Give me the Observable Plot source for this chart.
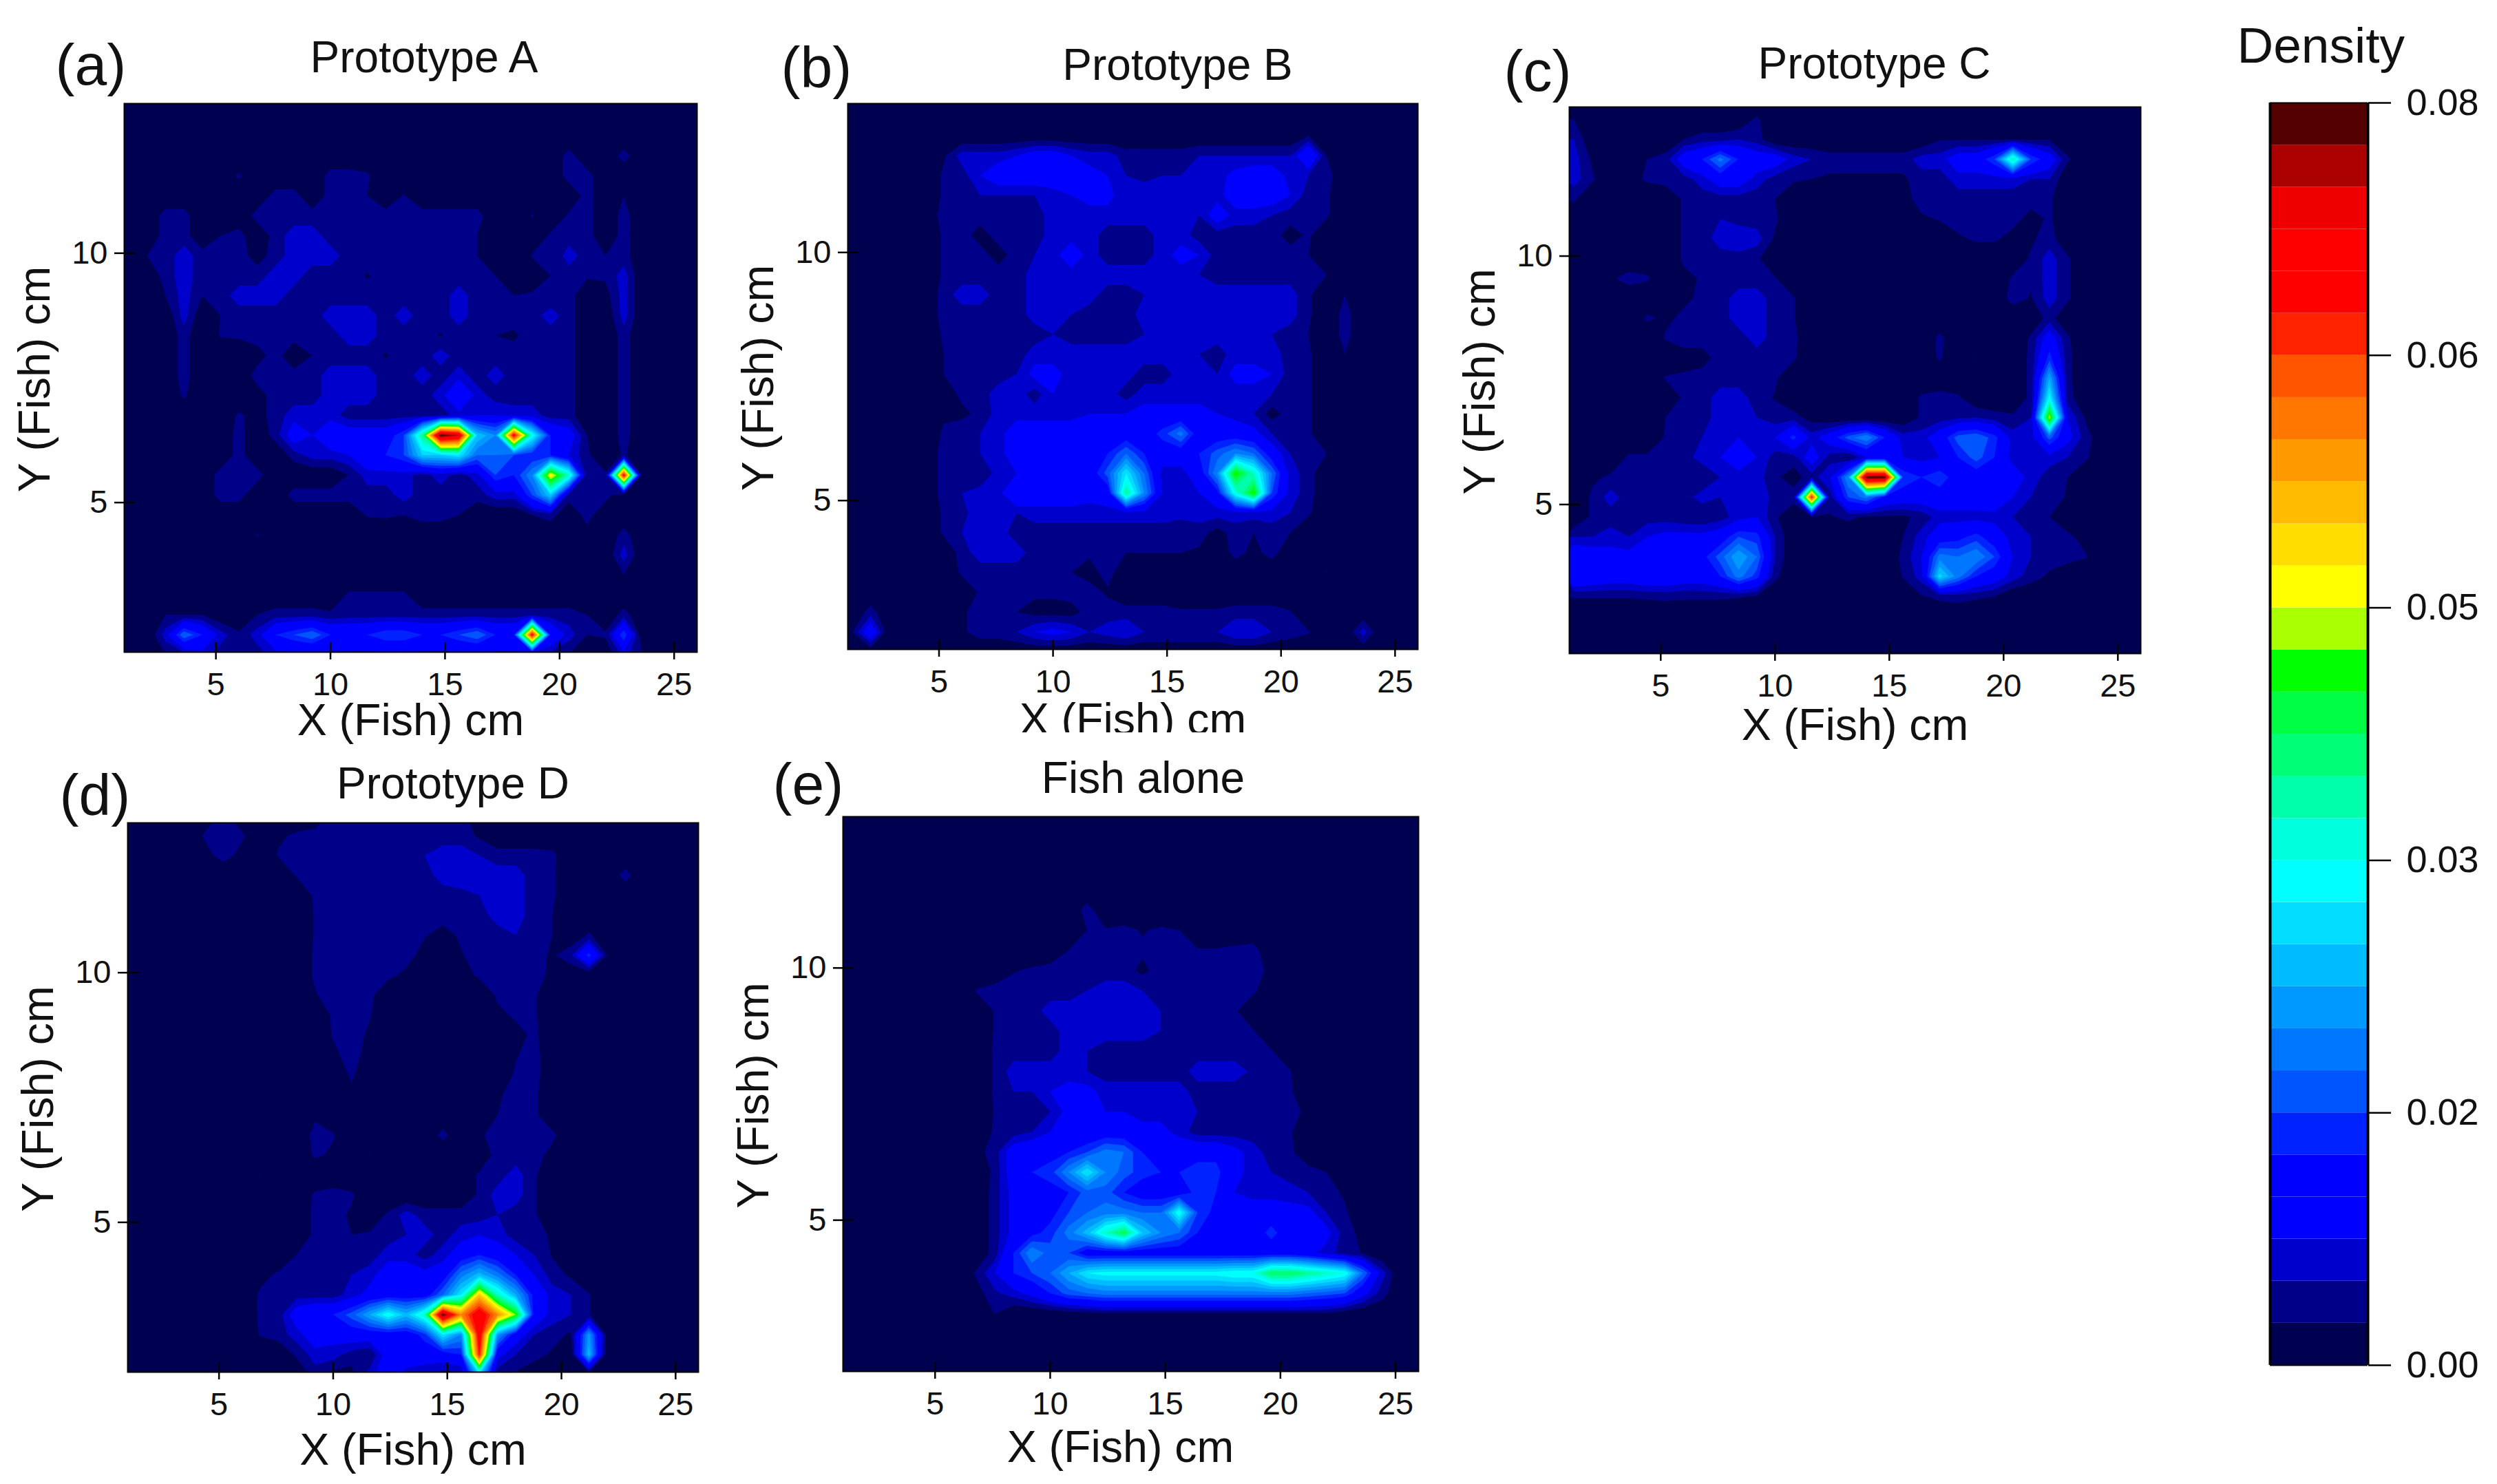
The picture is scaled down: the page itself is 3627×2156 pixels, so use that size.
<!DOCTYPE html>
<html><head><meta charset="utf-8">
<script src="https://cdn.jsdelivr.net/npm/d3@7"></script>
<script src="https://cdn.jsdelivr.net/npm/@observablehq/plot@0.6"></script>
<style>
html,body{margin:0;padding:0;background:#fff}
#page{position:relative;width:3627px;height:2156px;overflow:hidden;background:#fff}
#page svg{position:absolute;max-width:none}
</style></head><body><div id="page"></div>
<script>
// Density grids, in units of one colour band (0.08 / 30).
// Columns: x = 1.2, 2.0 ... 26.0 (step 0.8). Rows, top to bottom: y = 13.15, 12.75 ... 1.95 (step 0.4).
const panelA = [
[0,0,0,0, 0,0,0,0, 0,0,0,0, 0,0,0,0, 0,0,0,0, 0,0,0,0, 0,0,0,0, 0,0,0,0],
[0,0,0,0, 0,0,0,0, 0,0,0,0, 0,0,0,0, 0,0,0,0, 0,0,0,0, 0,0,0,0, 0,0,0,0],
[0,0,0,0, 0,0,0,0, 0,0,0,0, 0,0,0,0, 0,0,0,0, 0,0,0,0, 0,0,0,0, 0,0,0,0],
[0,0,0,0, 0,0,0,0, 0,0,0,0, 0,0,0,0, 0,0,0,0, 0,0,0,0, 1.5,0,0,1.5, 0,0,0,0],
[0,0,0,0, 0,0,1.2,0, 0,0,0,1.5, 1.5,1.2,0,0, 0,0,0,0, 0,0,0,0, 1.5,1.5,0,0, 0,0,0,0],
[0,0,0,0, 0,0,0,0, 1.5,1.5,0,1.5, 1.5,1,0,1.1, 0,0,0,0, 0,0,0,0, 0,1.5,0,1, 0,0,0,0],
[0,0,1.5,1.5, 0,0,0,1.5, 1.5,1.5,1.5,1.5, 1.5,1.5,1.5,1.5, 1.5,1.5,1.5,1.5, 0,0,1.1,0, 1.2,1.5,0,1.5, 0,0,0,0],
[0,0,1.5,1.5, 0,1,1.5,0, 1.5,2.5,2.5,1.5, 1.5,1.5,1.5,1.5, 1.5,1.5,1.5,1, 0,0,0,1.2, 1.5,1.5,0,1.5, 0,0,0,0],
[0,1,1.5,2.5, 1.5,1.5,1.5,0.5, 1.5,2.5,2.5,2.5, 1.5,1.5,1.5,1.5, 1.5,1.5,1.5,1, 0,0,1.1,1, 2.5,1.5,1,1.5, 0,0,0,0],
[0,0,1.5,2.5, 1.5,1.5,1.5,1.5, 2.5,2.5,1.5,1.5, 1.5,0.9,1.5,1.5, 1.5,1.5,1.5,1, 1,0,0,1, 1.5,1.2,1.2,2.5, 0,0,0,0],
[0,0,1,2.5, 1,1.5,2.5,2.5, 2.5,1.5,1.5,1.5, 1.5,1.5,1.5,1.5, 1.5,1.5,2.5,1.5, 1.5,1,1.2,1.2, 1.5,0,0.5,2.5, 0,0,0,0],
[0,0,0,2.5, 0,1,1.5,1.5, 1.5,1.5,1.5,2.5, 2.5,2.5,1.5,2.5, 1.5,1.5,2.5,1.5, 1.5,1.5,1.5,2.5, 1.5,0,0,2.5, 0,0,0,0],
[0,0,0,1.5, 0,1.1,1.2,1.5, 1.5,1.5,1.5,1.5, 2.5,2.5,1.5,1.5, 1.5,0.9,1.5,1.5, 1,0.8,1.5,1.5, 1.5,0,0,1.5, 0,0,0,0],
[0,0,0,1.5, 0,0,0,0.5, 1.5,0,1,1.5, 1.5,1.5,0.9,1.5, 1.5,2.5,1.5,1.5, 1.5,1.5,1.5,1.5, 1.5,0,0,1.5, 0,0,0,0],
[0,0,0,1.5, 0,0,0,1.5, 1.5,1.5,1.5,2.5, 2.5,2.5,1.5,1.5, 2.5,1.5,2.5,1.5, 2.5,1.5,1.5,1.5, 1.5,0,0,1.5, 0,0,0,0],
[0,0,0,1.2, 0,0,0,0.5, 1.5,1.5,1.5,2.5, 2.5,2.5,1.5,1.5, 1.5,2.5,5,2.5, 1.5,1.5,1.5,1.5, 1.5,0,0,1.5, 0,0,0,0],
[0,0,0,0, 0,0,1.2,0.5, 1.5,2.5,2.5,2.5, 1.5,1.5,1.5,1.5, 1.5,1.5,2.5,3, 3,2.5,2.5,1.5, 1.5,0,0,1.5, 0,0,0,0],
[0,0,0,0, 0,0,1.5,0, 1.5,4,3,4.5, 4,4,4,6, 14,30,28,10, 8,26,12,5, 4,1,0,1.5, 0,0,0,0],
[0,0,0,0, 0,0,1.5,0, 0,1.5,2.5,2.5, 3,4.5,5,6, 10,10,11,7, 7,6,5,5, 3,1.2,0,1.2, 0,0,0,0],
[0,0,0,0, 0,1.5,1.5,1.5, 0,0,0,0, 1,2.5,2.5,2.5, 1.5,2.5,1.5,2.5, 6,5,8,19, 13,1,1.2,26, 0,0,0,0],
[0,0,0,0, 0,1.5,1.5,0, 0,1.5,1.5,1.5, 1.5,1.5,1.5,2.5, 1.5,1.5,1.5,1.5, 2.5,2.5,6,10, 1.5,1.5,1.5,0, 0,0,0,0],
[0,0,0,0, 0,0,0,0, 0,0,0,0, 0,1.1,1.2,1, 1.5,1.5,1,0, 0,0,1,1.5, 0,1.5,0,0, 0,0,0,0],
[0,0,0,0, 0,0,0,1.1, 0,0,0,0, 0,0,0,0, 0,0,0,0, 0,0,0,0, 0,0.5,0,1.5, 0,0,0,0],
[0,0,0,0, 0,0,0,0, 0,0,0,0, 0,0,0,0, 0,0,0,0, 0,0,0,0, 0,0,0,2.5, 0,0,0,0],
[0,0,0,0, 0,0,0,0, 0,0,0,0, 0,0,0,0, 0,0,0,0, 0,0,0,0, 0,0,0,1, 0,0,0,0],
[0,0,0,0, 0,0,0,0, 0,0,0,0, 1.2,1.2,1.2,1.2, 0,0,0,0, 0,0,0,0, 0,0,0,0, 0,0,0,0],
[0,0,1,1, 1,0,0,1, 1.5,1.5,1.5,1.2, 1.5,1.5,1.5,1.5, 1.5,1.5,1.5,1.5, 1.5,1.5,1.5,1.5, 1.5,1,0,1.5, 0,0,0,0],
[0,0,2.5,7, 5,2.5,1.2,2.5, 5,6,7,5, 5,5,6,6, 5,5,6,7, 5,5,26,5, 2.5,1,1.2,6, 0,0,0,0],
[0,0,1,1.5, 2.5,1.5,1,1.5, 2.5,2.5,2.5,2.5, 2.5,2.5,2.5,2.5, 2.5,2.5,2.5,2.5, 2.5,2.5,1.5,1.5, 1,0,0,2.5, 1,0,0,0]
];
const panelB = [
[0,0,0,0, 0,0,0,0, 0,0,0,0, 0,0,0,0, 0,0,0,0, 0,0,0,0, 0,0,0,0, 0,0,0,0],
[0,0,0,0, 0,0,0,0, 0,0,0,0, 0,0,0,0, 0,0,0,0, 0,0,0,0, 0,0,0,0, 0,0,0,0],
[0,0,0,0, 0,0,0,0, 0,0,0,0, 0,0,0,0, 0,0,0,0, 0,0,0,0, 0,1,0,0, 0,0,0,0],
[0,0,0,0, 0,0.8,2.5,2.5, 2.5,3,4,4, 3,2.5,2.5,1.5, 1.5,1.5,1.5,2, 2,2,2,2, 2,5,1,0, 0,0,0,0],
[0,0,0,0, 0,1.2,1.5,3, 4,4,4,4, 3.5,3.5,3,2, 1.5,2,2,2.5, 2.5,3.5,4,4, 2.5,2,1.5,0, 0,0,0,0],
[0,0,0,0, 0,1.2,1.5,2, 2,2,2,2.5, 3,3.5,3.5,2, 3,3,2,2, 2.5,4,4,4, 3,1.5,1.2,0, 0,0,0,0],
[0,0,0,0, 0,1.5,1.5,1.5, 1.5,1.5,1.5,2.5, 2.5,2.5,2.5,2.5, 2.5,2.5,2.5,2, 4,2.5,2.5,2, 1.5,1.5,1.2,0, 0,0,0,0],
[0,0,0,0, 0,1.2,1.5,0.5, 1.5,1.5,1.5,2.5, 2.5,2.5,1.5,1.5, 1.5,2.5,2.5,1.5, 1.5,1.5,1.5,1.5, 0.5,1.2,0,0, 0,0,0,0],
[0,0,0,0, 0,1.2,1.5,1.5, 0.5,1.5,2,2.5, 4,2.5,1.5,1.5, 1.5,2.5,3.5,3, 1.5,1.5,1.5,1.5, 1.5,1,0,0, 0,0,0,0],
[0,0,0,0, 0,1.2,1.5,1.5, 1.5,1.5,2.5,2.5, 2.5,2.5,2.5,2.5, 2.5,2.5,2.5,2, 1.5,1.5,1.5,1.5, 1.5,1.2,1,0, 0,0,0,0],
[0,0,0,0, 0,1.5,2.5,2.5, 1.5,1.5,2.5,2.5, 2.5,2.5,1.5,1.5, 2,2.5,2.5,2.5, 2.5,2.5,2.5,2.5, 2.5,1.2,0,1, 0,0,0,0],
[0,0,0,0, 0,1.5,1.5,1.5, 1.5,1.5,2.5,2.5, 2,1.5,1.5,1.5, 2.5,2.5,2.5,2.5, 2.5,2.5,2.5,2.5, 2.5,1.2,0,1.5, 0,0,0,0],
[0,0,0,0, 0,1.2,1.5,1.5, 1.5,1.5,1.5,2, 1.5,1.5,1.5,1.5, 2,2.5,2.5,2.5, 2.5,2.5,2.5,2, 1.5,1,0,1.5, 0,0,0,0],
[0,0,0,0, 0,1,1.5,1.5, 1.5,1.5,2.5,2.5, 2.5,2.5,2.5,2.5, 2.5,2.5,2.5,2, 1.5,2.5,2.5,2.5, 1.5,1.2,0,1, 0,0,0,0],
[0,0,0,0, 0,1,1.5,1.5, 1.5,2,3.5,3.5, 2.5,2.5,2.5,2.5, 1.5,1.5,2.5,2.5, 2,3.5,3.5,3, 1.5,1.2,0,0, 0,0,0,0],
[0,0,0,0, 0,0.5,1.2,1.5, 2.5,2.5,1.5,3, 2,2.5,2.5,1.5, 2.5,2.5,2.5,2.5, 2.5,2.5,2.5,2, 1.5,1.2,0,0, 0,0,0,0],
[0,0,0,0, 0,0.8,0.8,1.2, 2.5,2.5,2.5,2.5, 2.5,3,3,3, 3.5,3.5,3.5,3.5, 3,2.5,2,0.5, 1.5,1.2,0,0, 0,0,0,0],
[0,0,0,0, 0,1.2,1.5,2, 2.5,4,4,4, 4,4,4,4, 4,5.5,7.5,4, 4,4,3.5,2, 1.5,1.2,0,0, 0,0,0,0],
[0,0,0,0, 0,1.5,1.5,2, 2.5,4,4,4, 4,4.5,5,7, 5,4,4,5, 6.5,8,7,4, 2,1.5,1,0, 0,0,0,0],
[0,0,0,0, 0,1.5,1.5,1, 2.5,3,4,4, 4,4,6.5,11, 7,2.5,2.5,4, 8,17,13,7, 2.5,1.5,0,0, 0,0,0,0],
[0,0,0,0, 0,1.5,2,2.5, 2.5,5,4,4, 4,3.5,4,14, 8,3,2.5,3, 4.5,12,17,6, 2.5,1.5,0,0, 0,0,0,0],
[0,0,0,0, 0,1.2,1.5,3, 2,2,2.5,2.5, 2.5,2.5,2.5,2.5, 2.5,2.5,2.5,2.5, 2.5,2.5,2.5,2.5, 2,1.2,0,0, 0,0,0,0],
[0,0,0,0, 0,1.2,2,3, 2.5,1.5,1.5,1.5, 1.5,1.5,1.5,1.5, 1.5,1.5,1,1.5, 0.5,1.5,1,1.5, 1,0,0,0, 0,0,0,0],
[0,0,0,0, 0,0,1.5,2.5, 2.5,2.5,1.5,1.5, 1.5,1.2,1,1, 1,1,1,0.8, 0,1.5,0.6,1.5, 0,0,0,0, 0,0,0,0],
[0,0,0,0, 0,0,1.2,1.5, 1.5,1.5,1.5,1.5, 1,0.5,1.5,0, 0,0,0,0, 0,0,0,0, 0,0,1.05,0, 0,0,0,0],
[0,0,0,0, 0,0,0,1.2, 1,1,1.2,1.2, 1.5,1.5,0.8,0, 0,0,0,0, 0,0,0,0, 0,0,0,0, 0,0,0,0],
[0,1.5,0,0, 0,0,0.8,1.5, 1.5,1,0.6,0.6, 0.5,1.5,1.5,1.5, 1.5,1.5,1.2,1.2, 1.2,1.5,1.5,1.5, 1.1,0,0,0, 0,0,0,0],
[1,4.5,0,0, 0,0,0.8,1.5, 1.5,2,3,3.5, 3,2,2.5,3, 2,2,2,2, 2,3,3,2, 1.5,1.1,0,0, 2.5,0,0,0],
[0,0,0,0, 0,0,0,0, 0,0,0,0, 0,0,0,0, 0,0,0,0, 0,0,0,0, 0,0,0,0, 0,0,0,0]
];
const panelC = [
[0,0,0,0, 0,0,0,0, 0,0,0,0, 0,0,0,0, 0,0,0,0, 0,0,0,0, 0,0,0,0, 0,0,0,0],
[1,0,0,0, 0,0,0,0, 0,0,1.2,0, 0,0,0,0, 0,0,0,0, 0,0,0,0, 0,0,0,0, 0,0,0,0],
[2,0,0,0, 0,0,1,1.5, 1.5,2,1.5,0, 0,0,0,0, 0,0,0,0, 0.9,0.9,0.9,0.9, 0.9,0.9,0.9,0, 0,0,0,0],
[2.5,0.8,0,0, 1,1.5,4,5, 7.5,5,4,4, 2.5,2,1.5,1.5, 1.5,1.5,1.5,2.5, 2.5,4,4,6, 13.5,6,4,1.2, 0,0,0,0],
[2.5,1.2,0,0.5, 1.2,1.5,1.5,2.5, 4,4,2.5,1.5, 1.2,1,0.8,0.8, 0.8,0.8,0.8,1.5, 1.5,2.5,2.5,2.5, 2.5,2,2,0, 0,0,0,0],
[1.2,0,0,0, 0,0,1.2,1.5, 1.5,1.5,1.5,1, 0,0,0,0, 0,0,0.5,1.5, 1.5,1.5,1.5,1.5, 1.5,1.5,1.2,0, 0,0,0,0],
[0,0,0,0, 0,0,1.2,1.5, 2,1.5,1.5,1.2, 0,0,0,0, 0,0,0,0.8, 1.1,1.5,1.5,1.5, 1.5,0.5,1.2,0, 0,0,0,0],
[0,0,0,0, 0,0,1.2,1.5, 2.5,3,2.5,0.8, 0,0,0,0, 0,0,0,0, 0,0.8,1.2,1.2, 0.5,0.8,1.5,0, 0,0,0,0],
[0,0,0,0, 0,0,1.2,1.5, 1.5,1.5,1.2,0, 0,0,0,0, 0,0,0,0, 0,0,0,0, 0,1.2,2.5,1.2, 0,0,0,0],
[0,0,0.8,1.5, 1.2,0,0.7,1.1, 1.5,1.5,1.5,1.1, 0,0,0,0, 0,0,0,0, 0,0,0,0, 1.2,1.2,2.5,1.2, 0,0,0,0],
[0,0,0,0, 0,0,0.8,1.2, 1.5,2.5,2.5,1.5, 1.1,0,0,0, 0,0,0,0, 0,0,0,0, 1.5,0.9,2.5,1.2, 0,0,0,0],
[0,0,0,0, 1.2,0.8,1.2,1.5, 1.5,2.5,2.5,1.5, 1.1,0,0,0, 0,0,0,0, 0,0,0,0, 0,0,1.5,0, 0,0,0,0],
[0,0,0,0, 0,1.1,1.5,1.5, 1.5,1.5,2.5,1.5, 1.3,0,0,0, 0,0,0,0, 1.3,0,0,0, 0,1.2,4,1.2, 0,0,0,0],
[0,0,0,0, 0,0,0.5,0.5, 1.5,1.5,1.5,1.5, 1.2,0,0,0, 0,0,0,0, 1.2,0,1.05,0, 0,1.3,5.5,1.3, 0,0,0,0],
[0,0,0,0, 0,1.1,1.2,1.5, 1.5,1.5,1.5,1.2, 0,0,0,0, 0,0,0,0, 0,0,0,0, 0,1.3,9,1.3, 0,0,0,0],
[0,0,0,0, 0,0,1.2,1.5, 2.5,2.5,1.5,0.9, 0,0,0,0, 0,0,0,1.2, 1.5,1.2,0,0, 0,1.3,11.5,1.5, 0,0,0,0],
[0,0,0,0, 0,1,1.5,1.5, 2.5,3,2,1.5, 1.5,0.5,0,0, 0,0,0,1.2, 1.5,1.8,2,1.5, 1.2,2,18,3, 0.8,0,0,0],
[0,0,0,0, 0,1.1,1.5,2, 2.5,3,2.5,3, 5.5,2.5,4,6.5, 8,5,2.5,2.5, 4,6.5,7,5.5, 2.5,2.5,6.5,3.5, 1.5,0,0,0],
[0,0,0,1.2, 1.2,1.5,1.5,2.5, 3,4,3,1.5, 1.5,4,1.5,0.8, 3,3,3,2.5, 3,5,6.5,5, 2.5,2,2.5,2, 1.2,0,0,0],
[0,0.8,1.2,1.5, 1.5,1.5,1.5,1, 2,2.5,2.5,1.2, 0.5,1.5,3,8, 30,30,6,5, 6,4,4,4, 4,2.5,1.5,1, 0,0,0,0],
[0,1.2,2.5,1.5, 1.5,1.5,1.5,2.5, 2,2.5,3,1.5, 1.5,25,1.5,6, 7.5,4.5,4,4, 4,4,4,4.5, 3,2,1.5,0.9, 0,0,0,0],
[0,1.2,1.5,1.5, 1.5,1.5,1.2,1, 1.5,2.5,3,1.2, 0,0.9,0.9,1.3, 0.8,0.8,0.8,1.3, 2.5,2.5,2.5,2.5, 2,1.5,1,0, 0,0,0,0],
[2,2,2.5,2, 3,3.5,3.5,3.5, 4,6,5.5,2, 0,0,0,0, 0,0,1,2.5, 4,4.5,5.5,4, 2.5,2,1.1,1.3, 0.5,0,0,0],
[4.5,4,3.5,3.5, 4,4,4,4.5, 6.5,9,7,2, 0,0,0,0, 0,0,1.3,3, 7.5,7,8,6, 3,2,1.5,1.5, 1.1,0,0,0],
[5,4.5,4,4, 4.5,4.5,4,4, 5,7.5,5.5,1.3, 0,0,0,0, 0,0,1.1,2.5, 10.5,7.5,5,4, 2.5,1.5,0.8,0, 0,0,0,0],
[1.1,1.1,1.1,1.1, 1.2,1.3,1.2,1.2, 1.2,1.1,0.9,0, 0,0,0,0, 0,0,0,0.9, 1.3,1.5,1.2,1, 0,0,0,0, 0,0,0,0],
[0,0,0,0, 0,0,0,0, 0,0,0,0, 0,0,0,0, 0,0,0,0, 0,0,0,0, 0,0,0,0, 0,0,0,0],
[0,0,0,0, 0,0,0,0, 0,0,0,0, 0,0,0,0, 0,0,0,0, 0,0,0,0, 0,0,0,0, 0,0,0,0],
[0,0,0,0, 0,0,0,0, 0,0,0,0, 0,0,0,0, 0,0,0,0, 0,0,0,0, 0,0,0,0, 0,0,0,0]
];
const panelD = [
[0,0,0,0, 0,1.5,0,0, 0,0,0,1.5, 1.5,1.5,1.5,1.5, 0.9,1.5,1.5,0, 0,0,0,0, 0,0,0,0, 0,0,0,0],
[0,0,0,0, 1.2,2,1.2,0, 0.8,1.2,1.5,1.5, 1.5,1.5,1.5,1.5, 1.5,1.5,1.5,0.8, 0,0,0,0, 0,0,0,0, 0,0,0,0],
[0,0,0,0, 0.6,1.5,0.6,0, 1.1,1.5,1.5,1.5, 1.5,1.5,1.5,1.5, 2,2.5,2.5,2, 1.5,1.5,1.5,1.3, 0,0,0,0, 0,0,0,0],
[0,0,0,0, 0,0,0,0, 0,1.1,1.5,1.5, 1.5,1.5,1.5,1.5, 1.5,2.5,3,2.5, 2.5,2.5,1.5,1.2, 0,0,0,1.5, 0,0,0,0],
[0,0,0,0, 0,0,0,0, 0,0,1.2,1.5, 1.5,1.5,1.5,1.5, 1.5,1.5,1.5,2, 2.5,2.5,1.5,1.2, 0,0,0,0, 0,0,0,0],
[0,0,0,0, 0,0,0,0, 0,0,1.1,1.5, 1.5,1.5,1.5,1.5, 1.5,1.5,1.5,1.5, 2.5,2.5,1.5,1, 0,0,0,0, 0,0,0,0],
[0,0,0,0, 0,0,0,0, 0,0,1.1,1.5, 1.5,1.5,1.5,1.5, 1.1,0.5,1.2,1.5, 1.5,2,1.5,1, 0,1.2,0,0, 0,0,0,0],
[0,0,0,0, 0,0,0,0, 0,0,1.2,1.5, 1.5,1.5,1.5,1.5, 0.5,0,0.9,1.5, 1.5,1.5,1.5,0.8, 1.8,5.5,1,0, 0,0,0,0],
[0,0,0,0, 0,0,0,0, 0,0,1.2,1.5, 1.5,1.5,1.3,0.7, 0,0,0.5,1.2, 1.5,1.5,1.5,0.7, 0,0,0,0, 0,0,0,0],
[0,0,0,0, 0,0,0,0, 0,0,0.9,1.5, 1.5,1.3,0,0, 0,0,0,0, 1.2,1.5,1.2,0, 0,0,0,0, 0,0,0,0],
[0,0,0,0, 0,0,0,0, 0,0,0,1.2, 1.5,1.1,0,0, 0,0,0,0, 0.7,1.2,1.2,0, 0,0,0,0, 0,0,0,0],
[0,0,0,0, 0,0,0,0, 0,0,0,1.1, 1.5,0.8,0,0, 0,0,0,0, 0,0.5,1.3,0, 0,0,0,0, 0,0,0,0],
[0,0,0,0, 0,0,0,0, 0,0,0,0.7, 1.5,0.5,0,0, 0,0,0,0, 0,0.9,1.5,0, 0,0,0,0, 0,0,0,0],
[0,0,0,0, 0,0,0,0, 0,0,0,0, 1.2,0,0,0, 0,0,0,0, 0,1.2,1.5,0, 0,0,0,0, 0,0,0,0],
[0,0,0,0, 0,0,0,0, 0,0,0,0, 0.7,0,0,0, 0,0,0,0, 0.8,1.5,1.3,0, 0,0,0,0, 0,0,0,0],
[0,0,0,0, 0,0,0,0, 0,0,0.8,0, 0,0,0,0, 0,0,0,0, 1,1.2,1.3,0, 0,0,0,0, 0,0,0,0],
[0,0,0,0, 0,0,0,0, 0,0,1.4,1.1, 0,0,0,0, 0,1.4,0,0.8, 1.5,1.5,2,1.3, 0,0,0,0, 0,0,0,0],
[0,0,0,0, 0,0,0,0, 0,0,1.2,0.8, 0,1.05,0,0, 0,0,0,0, 1.5,1.5,1.5,0.6, 0,0,0,0, 0,0,0,0],
[0,0,0,0, 0,0,0,1.05, 0,0,0,0, 0,0,0,0, 0,0,0,1.2, 1.5,2.5,1.2,0, 0,0,0,0, 0,0,0,0],
[0,0,0,0, 0,0,0,0, 0,0,1.2,1.5, 1.2,0,0,0, 0,0,0,1.2, 2.5,2.5,1.2,0, 0,0,0,0, 0,0,0,0],
[0,0,0,0, 0,0,0,0, 0,0,1.3,1.5, 0.8,0,1.2,2.5, 1.5,1.5,1.5,1.5, 2,1.5,1.2,0, 0,0,0,0, 0,0,0,0],
[0,0,0,0, 0,0,0,0, 0,0,1.3,1.5, 1,1.2,1.5,2, 2.5,1.5,2.5,3, 2.5,1.5,1.5,0.8, 0,0,0,0, 0,0,0,0],
[0,0,0,0, 0,0,0,0, 0,1,1.5,1.5, 1.5,1.5,2.5,2.5, 1.5,2.5,4,5, 4,3,2,0.9, 0,0,0,0, 0,0,0,0],
[0,0,0,0, 0,0,0,0.6, 1.2,1.2,1.5,1.5, 2,2.5,4,4, 3.5,4,7.5,9.5, 7.5,5,3,1.5, 0.8,0,0,0, 0,0,0,0],
[0,0,0,0, 0,0,0,1.2, 1.5,1.5,1.5,1.5, 2.5,3.5,4,4, 4,7,11,20, 13,9,4.5,2.5, 2,1.1,0,0, 0,0,0,0],
[0,0,0,0, 0,0,0,1.2, 1.5,4,5,5, 6.5,9,12,9.5, 13,30,22,27, 22,17,4.5,2.5, 2,1.1,0,0, 0,0,0,0],
[0,0,0,0, 0,0,0,1.1, 1.5,2.5,4,3.5, 4,4,4,4, 5.5,11,8,27, 8.5,4,2,1.5, 0.8,8.5,0.5,0, 0,0,0,0],
[0,0,0,0, 0,0,0,0, 0,1.2,2.5,2.5, 1.5,1,4,4, 4,4,5,25, 3.5,2,1.5,0.8, 0,9.5,0,0, 0,0,0,0],
[0,0,0,0, 0,0,0,0, 0,0,1.5,0.6, 0.6,2.5,4,2.5, 2,1.5,1.5,10, 1.2,0.8,0,0, 0,0,0,0, 0,0,0,0]
];
const panelE = [
[0,0,0,0, 0,0,0,0, 0,0,0,0, 0,0,0,0, 0,0,0,0, 0,0,0,0, 0,0,0,0, 0,0,0,0],
[0,0,0,0, 0,0,0,0, 0,0,0,0, 0,0,0,0, 0,0,0,0, 0,0,0,0, 0,0,0,0, 0,0,0,0],
[0,0,0,0, 0,0,0,0, 0,0,0,0, 0,0,0,0, 0,0,0,0, 0,0,0,0, 0,0,0,0, 0,0,0,0],
[0,0,0,0, 0,0,0,0, 0,0,0,0, 0,0,0,0, 0,0,0,0, 0,0,0,0, 0,0,0,0, 0,0,0,0],
[0,0,0,0, 0,0,0,0, 0,0,0,0, 0,0,0,0, 0,0,0,0, 0,0,0,0, 0,0,0,0, 0,0,0,0],
[0,0,0,0, 0,0,0,0, 0,0,0,0, 0,1.5,0,0, 0,0,0,0, 0,0,0,0, 0,0,0,0, 0,0,0,0],
[0,0,0,0, 0,0,0,0, 0,0,0,0, 0,1,1.1,1.3, 0.9,1.2,1,0, 0,0,0,0, 0,0,0,0, 0,0,0,0],
[0,0,0,0, 0,0,0,0, 0,0,0,0, 1,1.5,1.5,1.5, 1.2,1.5,1.5,1.1, 1.1,1.3,1.5,0, 0,0,0,0, 0,0,0,0],
[0,0,0,0, 0,0,0,0, 0,0.9,1.2,1.5, 1.5,1.5,1.5,1.5, 0.7,1.5,1.5,1.5, 1.5,1.5,1.5,0.7, 0,0,0,0, 0,0,0,0],
[0,0,0,0, 0,0,0,1.1, 1.5,1.5,1.5,1.5, 1.5,2,2.5,2.5, 2,1.5,1.5,1.5, 1.5,1.5,1.3,0, 0,0,0,0, 0,0,0,0],
[0,0,0,0, 0,0,0,0, 1.1,1.5,1.5,2.5, 2.5,2.5,2.5,2.5, 2.5,2,1.5,1.5, 1.5,1.2,0,0, 0,0,0,0, 0,0,0,0],
[0,0,0,0, 0,0,0,0, 1.1,1.5,1.5,1.5, 2.5,2.5,2.5,2.5, 2.5,2,1.5,1.5, 1.5,1.5,1.1,0, 0,0,0,0, 0,0,0,0],
[0,0,0,0, 0,0,0,0, 1.2,1.5,1.5,1.5, 2.5,2,1.5,1.5, 1.5,1.5,1.5,1.5, 1.5,1.5,1.5,1.1, 0,0,0,0, 0,0,0,0],
[0,0,0,0, 0,0,0,0, 1.2,2.5,2.5,2.5, 2.5,2,1.5,1.5, 1.5,1.5,1.5,2.5, 2.5,2.5,1.8,1.5, 1.1,0,0,0, 0,0,0,0],
[0,0,0,0, 0,0,0,0, 1.2,2,2,3, 3.5,3.5,2.5,2.5, 2.5,2.5,2.5,1.5, 1.5,1.5,1.5,1.5, 1.2,0,0,0, 0,0,0,0],
[0,0,0,0, 0,0,0,0, 1.1,1.5,1.5,2, 3.5,3.5,3,3, 2.5,2.5,2.5,2, 1.5,1.5,1.5,1.8, 1.3,0.8,0,0, 0,0,0,0],
[0,0,0,0, 0,0,0,0, 1.2,1.5,2,3, 3.5,3.5,4,4, 3.5,3.5,2.5,1.5, 1.5,1.5,1.5,1.5, 1.2,0,0,0, 0,0,0,0],
[0,0,0,0, 0,0,0,0.6, 1.5,4,4.5,4.5, 5,6,7.5,7, 5,4.5,4.5,4.5, 4.5,3.5,2.5,1.5, 1.3,0,0,0, 0,0,0,0],
[0,0,0,0, 0,0,0,0, 1.3,4,5,5.5, 8,11,8,6.5, 5.5,5,5,5.5, 5.5,3.5,2.5,2, 1.5,1.5,1,0, 0,0,0,0],
[0,0,0,0, 0,0,0,0, 1.5,3.5,4.5,4.5, 5,6.5,6.5,5, 4,4,4,5.5, 5,3,2.5,2.5, 2.5,2,1.5,0.8, 0,0,0,0],
[0,0,0,0, 0,0,0,0, 1.5,3.5,4.5,4.5, 6,7,7.5,7.5, 7,7,12,6, 4.5,4,4,4, 3.5,3.5,2,1.2, 0,0,0,0],
[0,0,0,0, 0,0,0,0, 1.5,3.5,4.5,5.5, 7.5,9.5,13,15.5, 10,8,7,5, 4,4,4,5.5, 4,4,3.5,1.5, 0.6,0,0,0],
[0,0,0,0, 0,0,0,0, 1.5,5,8,6.5, 6,4,4,4, 4,4,4,4, 4,4,4,4, 4,3.5,2.5,1.5, 0.9,0,0,0],
[0,0,0,0, 0,0,0,1.2, 3,5,6,7, 9,11,11.5,11.5, 11.5,11.5,11.5,11.5, 11.5,12,12,15, 15,14,13,12, 7,2.5,0,0],
[0,0,0,0, 0,0,0,0.5, 1.8,2.5,3.5,5, 6.5,7,7.5,7.5, 7.5,7.5,7.5,7.5, 7.5,7.5,7.5,7.5, 7.5,7,6.5,6, 3.5,1.5,0,0],
[0,0,0,0, 0,0,0,0, 1.05,0,0,0.2, 0.4,0.6,0.9,0.9, 0.9,0.9,0.9,0.9, 0.9,0.9,0.9,0.9, 0.9,0.9,0.9,0.3, 0,0,0,0],
[0,0,0,0, 0,0,0,0, 0,0,0,0, 0,0,0,0, 0,0,0,0, 0,0,0,0, 0,0,0,0, 0,0,0,0],
[0,0,0,0, 0,0,0,0, 0,0,0,0, 0,0,0,0, 0,0,0,0, 0,0,0,0, 0,0,0,0, 0,0,0,0],
[0,0,0,0, 0,0,0,0, 0,0,0,0, 0,0,0,0, 0,0,0,0, 0,0,0,0, 0,0,0,0, 0,0,0,0]
];

// Colour bands, lowest to highest
const bandColors = ["#000050","#000088","#0000cc","#0000ff","#0000ff","#0022ff","#0055ff","#0077ff","#0099ff","#00bbff",
  "#00ddff","#00ffff","#00ffdd","#00ffaa","#00ff77","#00ff44","#00ff00","#aaff00","#ffff00","#ffdd00",
  "#ffbb00","#ff9900","#ff7700","#ff5500","#ff2200","#ff0000","#ff0000","#ee0000","#aa0000","#550000"];
const densityMax = 0.08;
const bandStep = densityMax / bandColors.length;
const thresholds = bandColors.map((c, i) => i * bandStep);
const colorScale = {type: "threshold", domain: thresholds.slice(1), range: bandColors};

const xTicks = [5, 10, 15, 20, 25];
const yTicks = [5, 10];
const colorbarTicks = [0, 0.016, 0.032, 0.048, 0.064, 0.08];
const xLabel = "X (Fish) cm";
const yLabel = "Y (Fish) cm";
const FONT = "'Liberation Sans', Arial, sans-serif";
const INK = "#111";

const page = document.getElementById("page");
const ML = 180, MT = 150, MR = 12;

function panel({rows, letter, title, frame, titleDx, titleDy, letterDx, letterDy, xLabelDx = 0, xLabelDy, bottom, clip}) {
  const [fx0, fy0, fx1, fy1] = frame;
  const innerW = fx1 - fx0, innerH = fy1 - fy0;
  const plot = Plot.plot({
    width: ML + innerW + MR, height: MT + innerH + bottom,
    marginLeft: ML, marginTop: MT, marginRight: MR, marginBottom: bottom,
    x: {domain: [1, 26]}, y: {domain: [2, 13]},
    color: colorScale,
    style: {background: "transparent", overflow: clip ? "hidden" : "visible", fontFamily: FONT, color: INK},
    marks: [
      Plot.contour(rows.flat().map((l) => l * bandStep), {
        width: 32, height: 29, x1: 0.8, x2: 26.4, y1: 13.35, y2: 1.75,
        fill: (d) => d, thresholds, clip: true
      }),
      Plot.frame({stroke: "black", strokeWidth: 2}),
      Plot.axisX(xTicks, {anchor: "bottom", label: null, tickSize: 11, tickPadding: 18, fontSize: 47, strokeWidth: 2.5, stroke: "black", fill: INK, tickFormat: (d) => String(d)}),
      Plot.axisY(yTicks, {anchor: "left", label: null, tickSize: 14, tickPadding: 10, fontSize: 47, strokeWidth: 2.5, stroke: "black", fill: INK, tickFormat: (d) => String(d)}),
      Plot.tickX(xTicks, {x: (d) => d, insetTop: innerH - 14, stroke: "black", strokeWidth: 2.5}),
      Plot.tickY(yTicks, {y: (d) => d, insetRight: innerW - 16, stroke: "black", strokeWidth: 2.5}),
      Plot.text([xLabel], {text: (d) => d, frameAnchor: "bottom", lineAnchor: "bottom", dx: xLabelDx, dy: xLabelDy, fontSize: 64.5, fill: INK}),
      Plot.text([yLabel], {text: (d) => d, frameAnchor: "left", textAnchor: "middle", lineAnchor: "bottom", rotate: -90, dx: -108.5, dy: 2, fontSize: 64.5, fill: INK}),
      Plot.text([title], {text: (d) => d, frameAnchor: "top", lineAnchor: "bottom", dx: titleDx, dy: titleDy, fontSize: 64, fill: INK}),
      Plot.text([letter], {text: (d) => d, frameAnchor: "top-left", textAnchor: "start", lineAnchor: "bottom", dx: letterDx - 2, dy: letterDy, fontSize: 84, fill: INK})
    ]
  });
  plot.style.left = (fx0 - ML) + "px";
  plot.style.top = (fy0 - MT) + "px";
  page.appendChild(plot);
}

panel({rows: panelA, letter: "(a)", title: "Prototype A", frame: [180, 150, 1012, 947], titleDx: 19.5, titleDy: -46, letterDx: -98, letterDy: -28, xLabelDy: 120, bottom: 145});
panel({rows: panelB, letter: "(b)", title: "Prototype B", frame: [1231, 150, 2059, 943], titleDx: 65, titleDy: -35, letterDx: -95, letterDy: -23.5, xLabelDy: 123, bottom: 121, clip: true});
panel({rows: panelC, letter: "(c)", title: "Prototype C", frame: [2279, 155, 3109, 949], titleDx: 28, titleDy: -42, letterDx: -93, letterDy: -24, xLabelDy: 125, bottom: 145});
panel({rows: panelD, letter: "(d)", title: "Prototype D", frame: [185, 1195, 1014, 1993], titleDx: 58, titleDy: -36, letterDx: -97, letterDy: -12, xLabelDy: 134, bottom: 155});
panel({rows: panelE, letter: "(e)", title: "Fish alone", frame: [1224, 1186, 2060, 1992], titleDx: 18, titleDy: -35, letterDx: -100, letterDy: -19, xLabelDx: -15, xLabelDy: 131, bottom: 155});

// Colour bar
const cb = {x0: 3297, x1: 3439, y0: 149, y1: 1983};
const cbML = 60, cbMT = 115;
const colorbar = Plot.plot({
  width: 3627 - cb.x0 + cbML, height: cb.y1 - cb.y0 + cbMT + 40,
  marginLeft: cbML, marginRight: 3627 - cb.x1, marginTop: cbMT, marginBottom: 40,
  x: {domain: [0, 1], axis: null}, y: {domain: [0, densityMax]},
  color: colorScale,
  style: {background: "transparent", overflow: "visible", fontFamily: FONT, color: INK},
  marks: [
    Plot.rect(thresholds, {x1: 0, x2: 1, y1: (d) => d, y2: (d) => d + bandStep, fill: (d) => d}),
    Plot.ruleX([0, 1], {stroke: "black", strokeWidth: 4}),
    Plot.ruleY([0, densityMax], {stroke: "black", strokeWidth: 2}),
    Plot.axisY(colorbarTicks, {anchor: "right", label: null, tickSize: 33, tickPadding: 23, fontSize: 54, strokeWidth: 2.5, stroke: "black", fill: INK, tickFormat: (d) => d.toFixed(2)}),
    Plot.text(["Density"], {text: (d) => d, frameAnchor: "top-left", textAnchor: "start", lineAnchor: "bottom", dx: -48, dy: -59, fontSize: 73, fill: INK})
  ]
});
colorbar.style.left = (cb.x0 - cbML) + "px";
colorbar.style.top = (cb.y0 - cbMT) + "px";
page.appendChild(colorbar);
</script></body></html>
